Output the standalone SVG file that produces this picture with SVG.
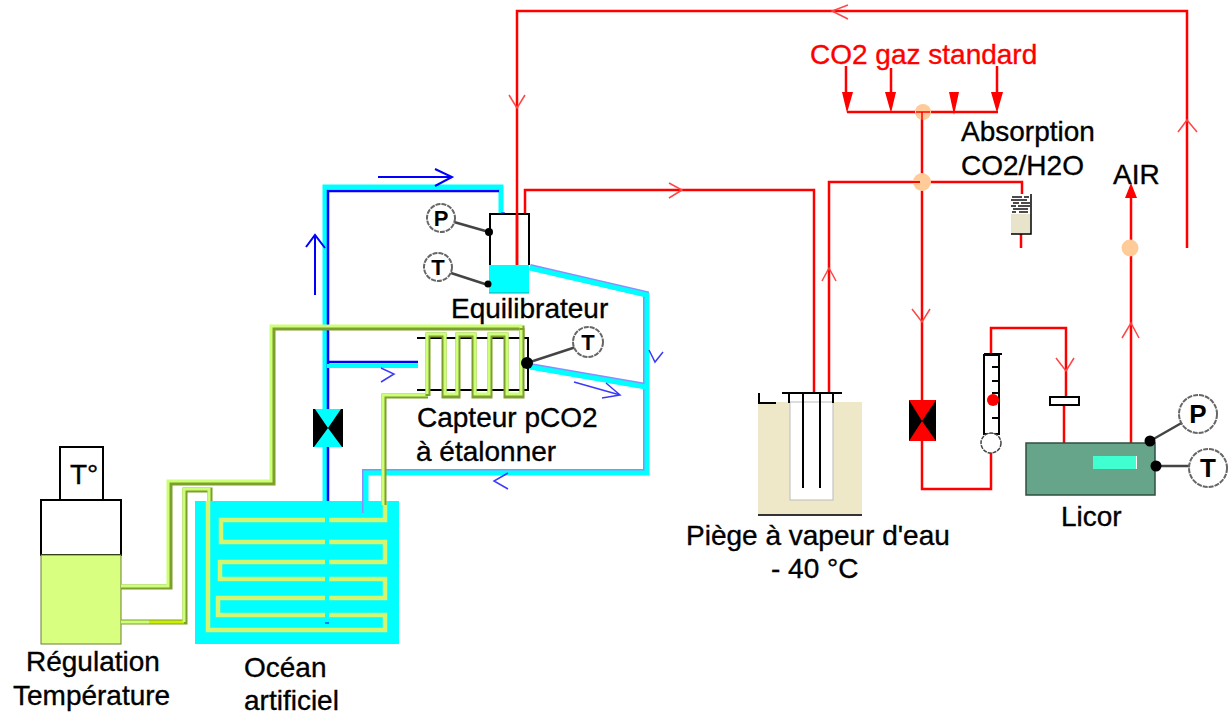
<svg xmlns="http://www.w3.org/2000/svg" width="1231" height="716" viewBox="0 0 1231 716">
<style>
.t{font-family:"Liberation Sans",Arial,sans-serif;font-size:28px;fill:#000;stroke:#000;stroke-width:.35}
.r{fill:#f00;stroke:#f00}
.red{fill:none;stroke:#f00;stroke-width:2.500}
.chr{fill:none;stroke:#ff4545;stroke-width:1.500}
.chb{fill:none;stroke:#3a3aff;stroke-width:1.500}
.blu{fill:none;stroke:#00f;stroke-width:2.500}
.gd{fill:none;stroke:#7d9f2b;stroke-width:5}
.gl{fill:none;stroke:#ccff77;stroke-width:3}
.gt{fill:none;stroke:#d4f56f;stroke-width:4.500}
.cy{fill:none;stroke:#0ff;stroke-width:5}
.ed{fill:none;stroke:#8c8cff;stroke-width:6}
.k{fill:none;stroke:#000;stroke-width:2}
.s{fill:#fff;stroke:#666;stroke-width:2;stroke-dasharray:5 1}
.l{stroke:#444;stroke-width:2.500}
.p{font-family:"Liberation Sans",Arial,sans-serif;font-weight:bold;font-size:22px;text-anchor:middle;fill:#000}
.pe{fill:#ffcc99}
.h{fill:#f00}
</style>
<g id="regulation">
<rect x="60" y="447" width="43" height="53" fill="#fff" stroke="#000" stroke-width="2"/>
<rect x="41" y="500" width="80" height="55" fill="#fff" stroke="#000" stroke-width="2"/>
<rect x="41" y="555" width="80" height="89" fill="#d9ff80" stroke="#6b7f30" stroke-width="1"/>
<text class="t" x="70" y="484">T°</text>
<text class="t" x="26" y="671">Régulation</text>
<text class="t" x="13" y="705">Température</text>
</g>
<g id="ocean">
<rect x="195" y="501" width="204" height="143" fill="#0ff"/>
<path class="gt" d="M385 501V520H221V542H385V562H220V579H385V598H218V615H385V630H208V501"/>
<path d="M327 501V618" fill="none" stroke="#0ff" stroke-width="4"/>
<path d="M325 623H329" stroke="#00f" stroke-width="1"/>
<text class="t" x="244" y="677">Océan</text>
<text class="t" x="244" y="710">artificiel</text>
</g>
<g id="connectors">
<path class="ed" d="M530 267L646 294V472H365V513"/>
<path class="ed" d="M530 366L646 386"/>
<path class="cy" d="M530 268L647 295V473H366V513"/>
<path class="cy" d="M530 367L646 387"/>
<path d="M501 213V187H325V501" fill="none" stroke="#0ff" stroke-width="5"/>
<path class="blu" d="M499 191H328V409"/>
<path d="M327 366H418" fill="none" stroke="#0ff" stroke-width="4"/>
<path class="blu" d="M328 362H418"/>
<path class="blu" d="M328 447V501"/>
<path class="gd" d="M121 587H170V483H273V328H522V340"/>
<path class="gl" d="M121 586H168V481H271V326H521V340"/>
<path class="gd" d="M428 396H384V505"/>
<path class="gl" d="M428 395H383V505"/>
<path class="gd" d="M121 622H185V490H210V501"/>
<path class="gl" d="M121 622H149"/>
<path d="M149 622H184" stroke="#ccee00" stroke-width="3" fill="none"/>
<path class="gl" d="M184 622V489H209V501"/>
<path class="chb" d="M378 177H452M435 169L452 177L435 186" style="stroke:#00f;stroke-width:2"/>
<path class="chb" d="M315 295V235M306 247L315 235L325 248" style="stroke:#00f;stroke-width:2"/>
<path class="chb" d="M381 368L394 374L381 382"/>
<path class="chb" d="M649 350L655 362L663 352"/>
<path class="chb" d="M574 382L620 395M606 383L620 395L602 398"/>
<path class="chb" d="M508 473L494 481L508 489"/>
<path class="red" d="M1187 248V11H517V265"/>
<path class="red" d="M525 213V190H814V393"/>
<path class="red" d="M829 393V182H1022V194"/>
<path class="red" d="M922 112V400"/>
<path class="red" d="M922 441V489H991V451"/>
<path class="red" d="M991 354V328H1066V397"/>
<path class="red" d="M1064 405V443"/>
<path class="red" d="M1131 443V190"/>
<path class="red" d="M1021 234V248"/>
<path class="red" d="M847 112H998"/>
<path class="red" d="M846 66V100M891 68V100M997 66V100"/>
<path class="h" d="M842 92H853L847 113ZM885 92H896L891 113ZM949 92H959L954 115ZM991 92H1003L997 113Z"/>
<path class="h" d="M1131 183L1137 198H1125Z"/>
<path class="chr" d="M848 5L832 11L848 19"/>
<path class="chr" d="M1178 132L1187 120L1197 132"/>
<path class="chr" d="M509 95L517 108L525 95"/>
<path class="chr" d="M669 183L682 190L669 198"/>
<path class="chr" d="M822 281L829 268L836 281"/>
<path class="chr" d="M912 309L922 322L930 309"/>
<path class="chr" d="M1056 358L1066 371L1074 358"/>
<path class="chr" d="M1122 338L1131 323L1139 338"/>
</g>
<g id="valve-water">
<rect x="313" y="409" width="30" height="38" fill="#000"/>
<path d="M315 409H341L328 428ZM328 428L342 447H314Z" fill="#0ff"/>
</g>
<g id="equilibrateur">
<path class="k" d="M490 265V214H529V265"/>
<rect x="489" y="265" width="40" height="28" fill="#0ff"/>
<path d="M489 293H529" stroke="#0aa" stroke-width="1"/>
<path d="M517 213V265" class="red"/>
<path d="M501 213H505" stroke="#00f" stroke-width="1"/>
<text class="t" x="451" y="318">Equilibrateur</text>
</g>
<g id="sensor-p-eq">
<path class="l" d="M454 222L489 232"/><circle cx="489" cy="232" r="4"/>
<circle class="s" cx="441" cy="218" r="14"/><text class="p" x="441" y="226">P</text>
</g>
<g id="sensor-t-eq">
<path class="l" d="M451 273L488 285"/><circle cx="488" cy="284" r="3.500"/>
<circle class="s" cx="438" cy="267" r="14"/><text class="p" x="438" y="275">T</text>
</g>
<g id="capteur">
<path class="k" d="M417 338H528V390H417"/>
<path class="gd" d="M428 396V335H444V396H458V335H474V396H490V335H506V396H522V328"/>
<path class="gl" d="M427 394V334H445V394H457V334H475V394H489V334H507V394H521V330"/>
<path class="l" d="M527 363L576 347"/><circle cx="527" cy="363" r="6"/>
<circle class="s" cx="588" cy="342" r="15"/><text class="p" x="588" y="350">T</text>
<text class="t" x="417" y="427">Capteur pCO2</text>
<text class="t" x="416" y="461">à étalonner</text>
</g>
<g id="piege">
<rect x="758" y="402" width="104" height="113" fill="#efe8c8"/>
<rect x="790" y="402" width="43" height="98" fill="#fff" stroke="#bbb" stroke-width="1"/>
<path d="M758 515H862" stroke="#333" stroke-width="2"/>
<path class="k" d="M782 393H842M759 393V403H776M803 393V488M820 393V488M789 393V403M833 393V403"/>
<text class="t" x="686" y="545">Piège à vapeur d'eau</text>
<text class="t" x="771" y="578">- 40 °C</text>
</g>
<g id="co2">
<circle class="pe" cx="923" cy="112" r="8"/>
<path d="M916 112H930M922 112V120" fill="none" stroke="#f00" stroke-width="1.500"/>
<circle class="pe" cx="922" cy="182" r="9"/>
<path d="M913 182H920" stroke="#f00" stroke-width="2"/>
<text class="t r" x="810" y="64">CO2 gaz standard</text>
</g>
<g id="absorption">
<rect x="1011" y="194" width="20" height="40" fill="#e8e4cc"/>
<rect x="1011" y="194" width="20" height="20" fill="#fff"/>
<path d="M1012 197h10m2 0h5M1011 200h16M1013 203h6m2 0h9M1011 206h5m2 0h12M1013 209h15M1012 212h4m3 0h9" stroke="#111" stroke-width="1.600"/>
<path d="M1031 194V234H1011" stroke="#000" stroke-width="1.500" fill="none"/>
<text class="t" x="961" y="141">Absorption</text>
<text class="t" x="961" y="175">CO2/H2O</text>
</g>
<g id="air">
<circle class="pe" cx="1130" cy="248" r="8.500"/>
<text class="t" x="1113" y="184">AIR</text>
</g>
<g id="valve-gas">
<rect x="909" y="400" width="27" height="41" fill="#000"/>
<path d="M909 400H936L922 421ZM922 421L936 441H909Z" fill="#f00"/>
</g>
<g id="debitmetre">
<rect x="984" y="355" width="15" height="79" fill="#fff" stroke="#000" stroke-width="2"/>
<path d="M984 354H1002M992 367H998M992 381H998M992 393H998M992 418H998" stroke="#000" stroke-width="2"/>
<circle cx="993" cy="400" r="6" fill="#f00"/>
<circle cx="991" cy="443" r="10" fill="#fff" stroke="#444" stroke-width="1.500" stroke-dasharray="4 1"/>
</g>
<g id="licor">
<rect x="1050" y="397" width="29" height="8" fill="#fff" stroke="#000" stroke-width="2"/>
<rect x="1026" y="443" width="129" height="52" fill="#66a58a" stroke="#2f4f40" stroke-width="1.500"/>
<rect x="1093" y="456" width="43" height="13" fill="#40ffd0"/>
<path d="M1136.500 456V469" stroke="#fff"/>
<path class="l" d="M1150 441L1185 421M1156 466L1190 466"/>
<circle cx="1150" cy="441" r="5.500"/><circle cx="1156" cy="466" r="5.500"/>
<circle class="s" cx="1198" cy="414" r="19"/><text class="p" x="1198" y="423" style="font-size:26px">P</text>
<circle class="s" cx="1208" cy="468" r="19"/><text class="p" x="1208" y="477" style="font-size:26px">T</text>
<text class="t" x="1061" y="526">Licor</text>
</g>
</svg>
